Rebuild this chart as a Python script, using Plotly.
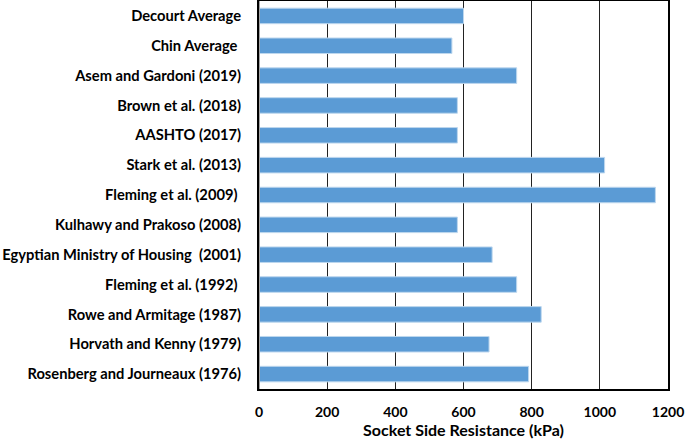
import plotly.graph_objects as go

categories = [
    "Decourt Average",
    "Chin Average ",
    "Asem and Gardoni (2019)",
    "Brown et al. (2018)",
    "AASHTO (2017)",
    "Stark et al. (2013)",
    "Fleming et al. (2009) ",
    "Kulhawy and Prakoso (2008)",
    "Egyptian Ministry of Housing  (2001)",
    "Fleming et al. (1992) ",
    "Rowe and Armitage (1987)",
    "Horvath and Kenny (1979)",
    "Rosenberg and Journeaux (1976)",
]
values = [600, 566, 756, 582, 582, 1014, 1163, 582, 684, 756, 828, 675, 791]
x_ticks = [0, 200, 400, 600, 800, 1000, 1200]

font_family = "Lato, Open Sans, sans-serif"

fig = go.Figure(go.Bar(
    x=values,
    y=categories,
    orientation="h",
    marker=dict(color="#5b9bd5", line=dict(color="#bdd7ee", width=1)),
))

fig.update_layout(
    width=685, height=444,
    margin=dict(l=259, r=17, t=1, b=55, autoexpand=False),
    paper_bgcolor="white",
    plot_bgcolor="white",
    bargap=0.48,
    showlegend=False,
    font=dict(family=font_family, color="black"),
)

fig.update_xaxes(
    range=[0, 1200],
    tickvals=x_ticks,
    ticktext=[f"<b>{v}</b>" for v in x_ticks],
    tickfont=dict(size=14, family=font_family, color="black"),
    showgrid=True, gridcolor="#222222", gridwidth=1,
    showline=True, linecolor="black", linewidth=2, mirror=True,
    ticks="outside", ticklen=9, tickcolor="rgba(0,0,0,0)",
    zeroline=False, automargin=False,
    title=dict(text="<b>Socket Side Resistance (kPa)</b>",
               font=dict(size=16, family=font_family, color="black"),
               standoff=6),
)

fig.update_yaxes(
    categoryorder="array",
    categoryarray=categories[::-1],
    tickvals=categories,
    ticktext=[f"<b>{c}</b>" for c in categories],
    tickfont=dict(size=14.7, family=font_family, color="black"),
    showline=True, linecolor="black", linewidth=2, mirror=True,
    ticks="outside", ticklen=13, tickcolor="rgba(0,0,0,0)",
    showgrid=False, automargin=False,
)

# left axis line in gray like the reference
fig.add_shape(type="line", xref="x", yref="paper", x0=0, x1=0, y0=0, y1=1,
              line=dict(color="#a6a6a6", width=2))

fig.write_html(
    "out.html",
    config={"displayModeBar": False},
    post_script="document.body.style.margin='0';document.body.style.padding='0';",
)
